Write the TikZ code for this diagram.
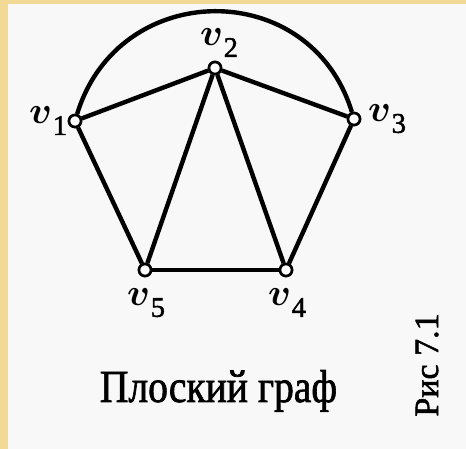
\documentclass[tikz,border=0pt]{standalone}
\usepackage{bm}
\usepackage{fontspec}
\setmainfont{Liberation Serif}
\newfontfamily\heavyfont[FakeBold=1.6]{Liberation Serif}
\definecolor{bgpaper}{RGB}{248,248,248}
\definecolor{goldstrip}{RGB}{242,218,150}
\newcommand\vlab[1]{$\bm{v}$\kern0.2pt\lower2.9pt\hbox{\heavyfont\fontsize{7.5}{8}\selectfont #1}}
\tikzset{
  vert/.style={circle, draw=black, fill=white, line width=2.6pt, minimum size=12pt, inner sep=0pt},
  vlabel/.style={inner sep=0pt, font=\fontsize{10}{12}\selectfont, scale=3.8, transform shape},
  edge/.style={line width=4.4pt, black}
}
\begin{document}
\begin{tikzpicture}[x=1pt,y=1pt]
\useasboundingbox (0,0) rectangle (466,449);
\fill[bgpaper] (0,0) rectangle (466,449);
\fill[goldstrip] (0,0) rectangle (8,449);
\fill[goldstrip] (0,445) rectangle (466,449);
% vertices
\node[vert] (v1) at (75,328) {};
\node[vert] (v2) at (215,381) {};
\node[vert] (v3) at (354,330) {};
\node[vert] (v4) at (286,179) {};
\node[vert] (v5) at (145,179) {};
% edges
\draw[edge] (v1) to[out=73,in=107,looseness=1.32] (v3);
\draw[edge] (v1) -- (v2);
\draw[edge] (v2) -- (v3);
\draw[edge] (v1) -- (v5);
\draw[edge] (v2) -- (v5);
\draw[edge] (v2) -- (v4);
\draw[edge] (v3) -- (v4);
\draw[edge, line width=3.4pt] (v5) -- (v4);
% redraw vertices on top
\node[vert] at (v1) {};
\node[vert] at (v2) {};
\node[vert] at (v3) {};
\node[vert] at (v4) {};
\node[vert] at (v5) {};
% labels
\node[vlabel] (l1) at (48,328) {\vlab{1}};
\node[vlabel] (l2) at (219,406) {\vlab{2}};
\node[vlabel] (l3) at (387,330) {\vlab{3}};
\node[vlabel] (l4) at (287,146) {\vlab{4}};
\node[vlabel] (l5) at (146,146) {\vlab{5}};
% captions
\node[anchor=base, inner sep=0pt, font=\heavyfont\fontsize{46}{50}\selectfont, xscale=0.86, transform shape] (cap) at (218.5,47) {Плоский граф};
\node[anchor=base, inner sep=0pt, rotate=90, font=\heavyfont\fontsize{34}{38}\selectfont] (fig) at (438,84) {Рис 7.1};
\end{tikzpicture}
\end{document}
